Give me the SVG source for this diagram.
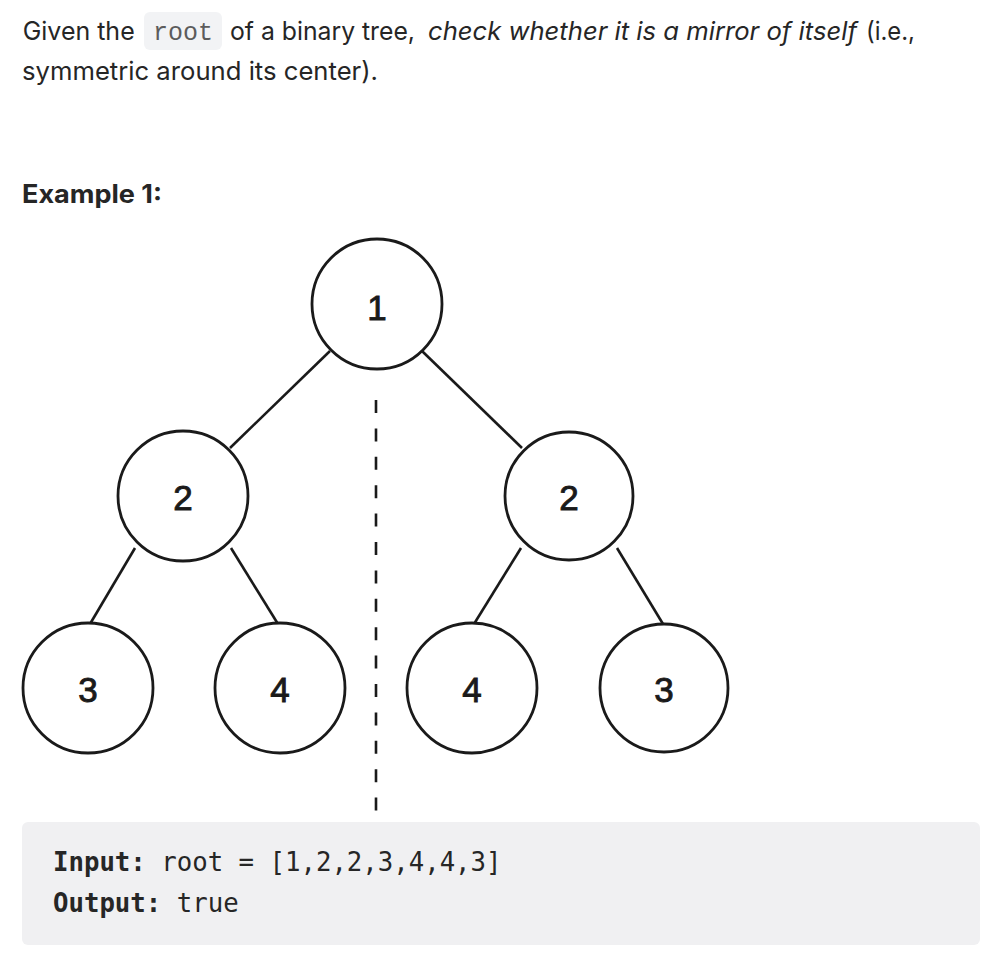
<svg xmlns="http://www.w3.org/2000/svg" width="998" height="954" viewBox="0 0 998 954">
<style>
.t{font-family:Inter,"Noto Sans","Liberation Sans",sans-serif;font-size:25.5px;fill:#262626}
.i{font-style:italic}
.b{font-weight:bold}
.ic{font-family:"Liberation Mono",monospace;font-size:25px;fill:#5c5c5c}
.m{font-family:"DejaVu Sans Mono",monospace;font-size:25.7px;fill:#262626}
.n circle{fill:#fff;stroke:#1a1a1a;stroke-width:2.8}
.n text{font-family:"Liberation Sans",Arial,sans-serif;font-size:35px;fill:#1a1a1a;stroke:#1a1a1a;stroke-width:0.9;text-anchor:middle}
.e line{stroke:#1a1a1a;stroke-width:2.6}
</style>
<rect width="998" height="954" fill="#fff"/>
<rect x="144" y="12" width="78" height="38" rx="6" fill="#f2f3f5"/>
<text class="t" x="22.7" y="40" textLength="112" lengthAdjust="spacingAndGlyphs">Given the</text>
<text class="ic" x="153" y="40">root</text>
<text class="t" x="230" y="40" textLength="185" lengthAdjust="spacingAndGlyphs">of a binary tree,</text>
<text class="t i" x="428" y="40" textLength="429" lengthAdjust="spacingAndGlyphs">check whether it is a mirror of itself</text>
<text class="t" x="866" y="40" textLength="49" lengthAdjust="spacingAndGlyphs">(i.e.,</text>
<text class="t" x="22" y="80" textLength="356" lengthAdjust="spacingAndGlyphs">symmetric around its center).</text>
<text class="t b" x="22" y="203" textLength="140" lengthAdjust="spacingAndGlyphs">Example 1:</text>
<g id="edges" class="e">
<line x1="330" y1="351" x2="230" y2="448"/>
<line x1="422" y1="351" x2="522" y2="448"/>
<line x1="135" y1="548" x2="90" y2="624"/>
<line x1="231" y1="548" x2="278" y2="624"/>
<line x1="521" y1="548" x2="474" y2="624"/>
<line x1="617" y1="548" x2="663" y2="624"/>
<line x1="376" y1="400" x2="376" y2="813" stroke-width="4.5" stroke-dasharray="13 15.4"/>
</g>
<g id="n1" class="n"><circle cx="377" cy="304" r="65"/><text x="377" y="320">1</text></g>
<g id="n2a" class="n"><circle cx="183" cy="496" r="65"/><text x="183" y="510">2</text></g>
<g id="n2b" class="n"><circle cx="569" cy="496" r="64"/><text x="569" y="510">2</text></g>
<g id="n3a" class="n"><circle cx="88" cy="688" r="65"/><text x="88" y="702">3</text></g>
<g id="n4a" class="n"><circle cx="280" cy="688" r="65"/><text x="280" y="702">4</text></g>
<g id="n4b" class="n"><circle cx="472" cy="688" r="65"/><text x="472" y="702">4</text></g>
<g id="n3b" class="n"><circle cx="664" cy="688" r="64"/><text x="664" y="702">3</text></g>
<rect x="22" y="822" width="958" height="123" rx="6" fill="#f0f0f2"/>
<text class="m" x="53" y="871"><tspan font-weight="bold">Input:</tspan> root = [1,2,2,3,4,4,3]</text>
<text class="m" x="53" y="912"><tspan font-weight="bold">Output:</tspan> true</text>
</svg>
